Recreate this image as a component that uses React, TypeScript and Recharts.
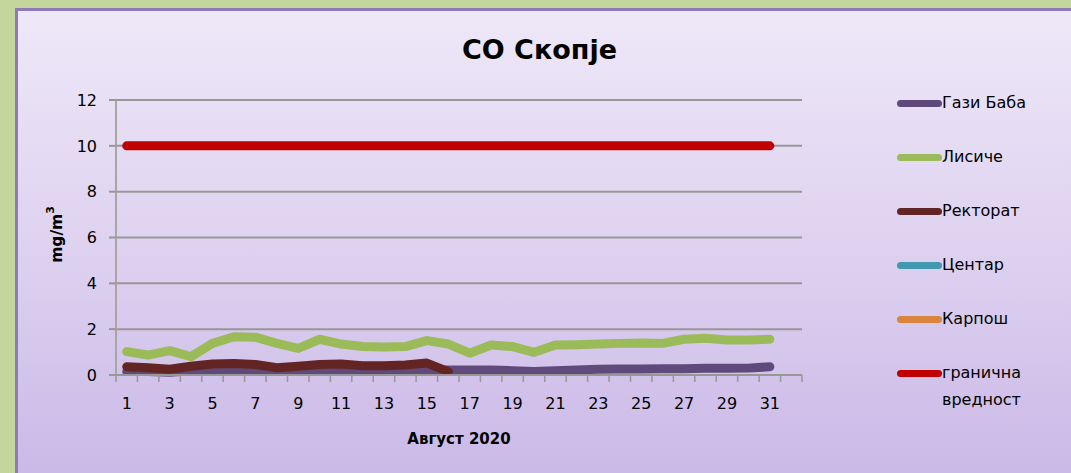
import React from 'react';
import { LineChart, Line, XAxis, YAxis, CartesianGrid, Label } from 'recharts';

const days = [1,2,3,4,5,6,7,8,9,10,11,12,13,14,15,16,17,18,19,20,21,22,23,24,25,26,27,28,29,30,31];
const gaziBaba = [0.15,0.15,0.12,0.18,0.2,0.2,0.18,0.15,0.15,0.18,0.2,0.2,0.18,0.2,0.22,0.22,0.22,0.22,0.19,0.15,0.19,0.22,0.25,0.26,0.26,0.27,0.27,0.29,0.29,0.3,0.36];
const lisice = [1.02,0.87,1.06,0.8,1.38,1.67,1.65,1.38,1.16,1.56,1.35,1.24,1.22,1.24,1.5,1.35,0.95,1.31,1.24,0.99,1.31,1.32,1.35,1.38,1.4,1.38,1.56,1.6,1.53,1.53,1.56];
const rektorat = [0.36,0.32,0.25,0.38,0.48,0.5,0.46,0.32,0.38,0.46,0.48,0.4,0.4,0.44,0.52,0.15];
const centar: number[] = [];
const karposh: number[] = [];
const limitValue = [10,10,10,10,10,10,10,10,10,10,10,10,10,10,10,10,10,10,10,10,10,10,10,10,10,10,10,10,10,10,10];
const yTicks = [0,2,4,6,8,10,12];
const xLabelTicks = [1,3,5,7,9,11,13,15,17,19,21,23,25,27,29,31];
const xBoundaryTicks = [0.5,1.5,2.5,3.5,4.5,5.5,6.5,7.5,8.5,9.5,10.5,11.5,12.5,13.5,14.5,15.5,16.5,17.5,18.5,19.5,20.5,21.5,22.5,23.5,24.5,25.5,26.5,27.5,28.5,29.5,30.5,31.5,32.5];
const xAllTicks = [...xBoundaryTicks, ...xLabelTicks].sort((a, b) => a - b);

const series = [
  { key: 'gaziBaba', name: 'Гази Баба', color: '#604a7b' },
  { key: 'lisice', name: 'Лисиче', color: '#9bbb59' },
  { key: 'rektorat', name: 'Ректорат', color: '#632523' },
  { key: 'centar', name: 'Центар', color: '#4198af' },
  { key: 'karposh', name: 'Карпош', color: '#db843d' },
  { key: 'limit', name: 'гранична вредност', color: '#c00000' },
];

const data = days.map((d, i) => ({
  day: d,
  gaziBaba: gaziBaba[i] ?? null,
  lisice: lisice[i] ?? null,
  rektorat: rektorat[i] ?? null,
  centar: centar[i] ?? null,
  karposh: karposh[i] ?? null,
  limit: limitValue[i] ?? null,
}));

const FONT = '"Comic Sans MS", "DejaVu Sans", sans-serif';
const GRID = '#979797';

const XTick = (props: any) => {
  const { x, y, payload } = props;
  const v = payload.value;
  if (Number.isInteger(v)) {
    return (
      <text x={x} y={y + 34} textAnchor="middle" fontFamily={FONT} fontSize={16} fill="#000">{v}</text>
    );
  }
  return <line x1={x} y1={y} x2={x} y2={y + 7} stroke={GRID} strokeWidth={1.5} />;
};

const YLabel = (props: any) => {
  const vb = props.viewBox || {};
  const x = vb.x + 1;
  const y = vb.y + vb.height / 2 - 3;
  return (
    <text x={x} y={y} transform={`rotate(-90, ${x}, ${y})`} textAnchor="middle" dominantBaseline="central"
      fontFamily={FONT} fontWeight="bold" fontSize={15.5} fill="#000">
      mg/m<tspan baselineShift="super" fontSize={11}>3</tspan>
    </text>
  );
};

export default function App() {
  return (
    <div style={{ position: 'fixed', left: 0, top: 0, width: 1071, height: 473, background: '#c3d69b', overflow: 'hidden' }}>
      <div style={{
        position: 'absolute', left: 15, top: 8, width: 1100, height: 500, boxSizing: 'border-box',
        borderLeft: '3px solid #9079b8', borderTop: '3px solid #9079b8',
        background: 'linear-gradient(to bottom, #eee8f8 0%, #dfd3f0 45%, #c8b5e6 100%)',
      }} />
      <div style={{
        position: 'absolute', left: 0, top: 34, width: 1071, textAlign: 'center', paddingLeft: 4,
        fontFamily: FONT, fontWeight: 'bold', fontSize: 27, color: '#000',
      }}>СО Скопје</div>
      <div style={{ position: 'absolute', left: 0, top: 0 }}>
        <LineChart width={1071} height={473} data={data} margin={{ top: 100, right: 269, bottom: 68, left: 56 }}>
          <CartesianGrid vertical={false} horizontal={true} stroke={GRID} strokeWidth={2} xAxisId="main" yAxisId="y" />
          <XAxis xAxisId="main" type="number" dataKey="day" domain={[0.5, 32.5]} ticks={xAllTicks}
            interval={0} height={30} tickLine={false} axisLine={{ stroke: GRID, strokeWidth: 2 }}
            tickSize={0} tickMargin={0} allowDecimals={true} tick={<XTick />}>
            <Label value="Август 2020" position="bottom" offset={28} fill="#000" fontSize={15} fontWeight="bold" fontFamily={FONT} />
          </XAxis>
          <YAxis yAxisId="y" type="number" domain={[0, 12]} ticks={yTicks} interval={0} width={60}
            tickSize={7} tickMargin={12} tickLine={{ stroke: GRID, strokeWidth: 2 }}
            axisLine={{ stroke: '#a6a6a6', strokeWidth: 2 }}
            tick={{ fill: '#000', fontSize: 16, fontFamily: FONT }}
            label={{ content: YLabel }} />
          {series.map((s) => (
            <Line key={s.key} xAxisId="main" yAxisId="y" type="linear" dataKey={s.key} name={s.name}
              stroke={s.color} strokeWidth={9} strokeLinecap="round" strokeLinejoin="round"
              dot={false} activeDot={false} isAnimationActive={false} connectNulls={false} />
          ))}
        </LineChart>
      </div>
      <div style={{ position: 'absolute', left: 897, top: 89, width: 170, fontFamily: FONT, fontSize: 16, color: '#000' }}>
        {series.map((s) => (
          <div key={s.key} style={{ display: 'flex', alignItems: 'flex-start', height: 54 }}>
            <div style={{ width: 45, height: 7, borderRadius: 4, background: s.color, marginTop: 11, flexShrink: 0 }} />
            <div style={{ width: 100, lineHeight: '27px' }}>{s.name}</div>
          </div>
        ))}
      </div>
    </div>
  );
}
